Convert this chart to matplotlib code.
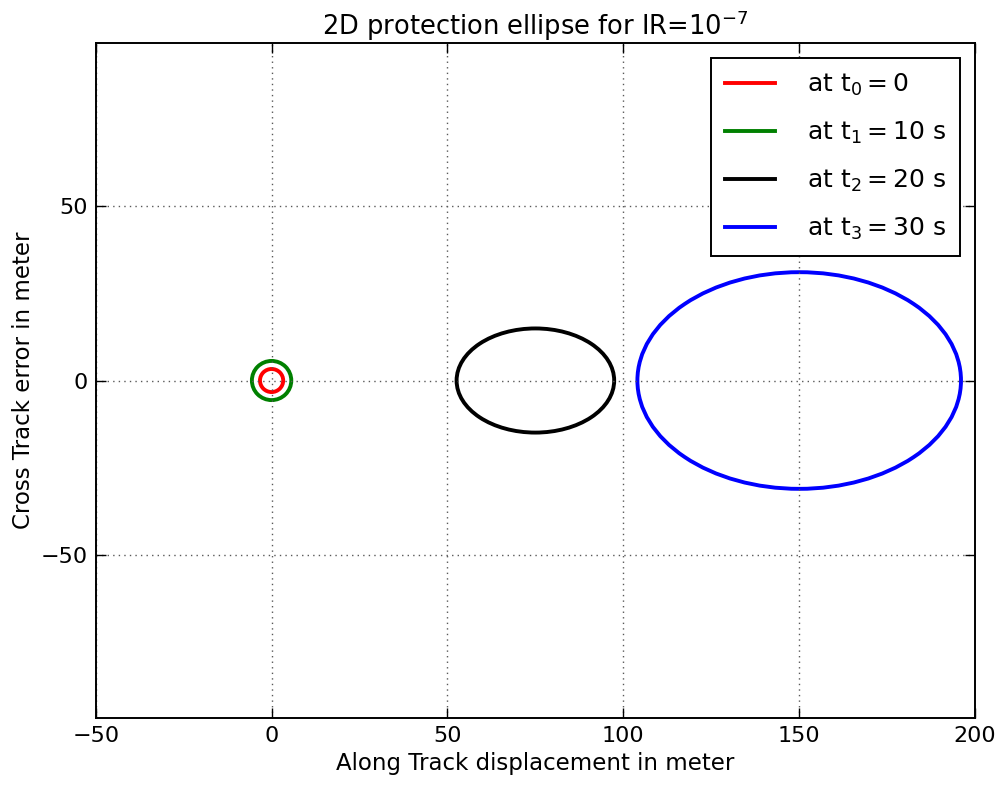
import numpy as np
import matplotlib
matplotlib.use("Agg")
import matplotlib.pyplot as plt
from matplotlib.patches import Ellipse
from matplotlib.lines import Line2D

# ellipse data (metres)
labels = [r"at $\mathrm{t_0=0}$", r"at $\mathrm{t_1=10}$ s",
          r"at $\mathrm{t_2=20}$ s", r"at $\mathrm{t_3=30}$ s"]
colors = ["red", "green", "black", "blue"]
center_x = [0, 0, 75, 150]
center_y = [0, 0, 0, 0]
semi_along = [3.3, 5.6, 22.4, 46.0]
semi_cross = [3.3, 5.6, 14.9, 31.0]

plt.rcParams['mathtext.fontset'] = 'dejavusans'

fig = plt.figure(figsize=(9.97, 7.87), dpi=100)
ax = fig.add_axes([0.096, 0.088, 0.882, 0.857])

handles = []
for cx, cy, a, b, c, lab in zip(center_x, center_y, semi_along, semi_cross, colors, labels):
    e = Ellipse((cx, cy), 2 * a, 2 * b, fill=False, edgecolor=c, linewidth=2.8)
    ax.add_patch(e)
    handles.append(Line2D([], [], color=c, linewidth=2.8, label=lab))

ax.set_xlim(-50, 200)
ax.set_ylim(-96.5, 96.5)
ax.set_xticks([-50, 0, 50, 100, 150, 200])
ax.set_yticks([-50, 0, 50])
ax.grid(True, color="0.35", linestyle=(0, (1, 3)), linewidth=1)
ax.tick_params(labelsize=16, direction="in", length=7, width=1, pad=6)
ax.tick_params(top=True, right=True)
for s in ax.spines.values():
    s.set_linewidth(1.4)

ax.set_xlabel("Along Track displacement in meter", fontsize=16.5)
ax.set_ylabel("Cross Track error in meter", fontsize=16.5)
ax.set_title(r"2D protection ellipse for IR=10$^{-7}$", fontsize=18.5)

leg = ax.legend(handles=handles, loc="upper right", fontsize=18, fancybox=False,
                framealpha=1, edgecolor="black", handlelength=2.0, handletextpad=1.3,
                borderpad=0.55, labelspacing=0.87, borderaxespad=0.6)
leg.get_frame().set_linewidth(1.4)

fig.savefig("out.png", dpi=100)
